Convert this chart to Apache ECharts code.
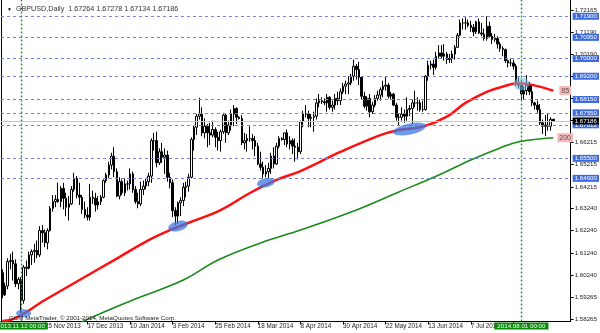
<!DOCTYPE html>
<html><head><meta charset="utf-8">
<script src="https://cdn.jsdelivr.net/npm/echarts@6/dist/echarts.min.js"></script>
<style>html,body{margin:0;padding:0;background:#fff}#c{width:600px;height:333px}</style>
</head><body><div id="c"></div><script>
const dates = [
'2013.11.01','2013.11.04','2013.11.05','2013.11.06','2013.11.07','2013.11.08','2013.11.11','2013.11.12','2013.11.13','2013.11.14',
'2013.11.15','2013.11.18','2013.11.19','2013.11.20','2013.11.21','2013.11.22','2013.11.25','2013.11.26','2013.11.27','2013.11.28',
'2013.11.29','2013.12.02','2013.12.03','2013.12.04','2013.12.05','2013.12.06','2013.12.09','2013.12.10','2013.12.11','2013.12.12',
'2013.12.13','2013.12.16','2013.12.17','2013.12.18','2013.12.19','2013.12.20','2013.12.23','2013.12.24','2013.12.26','2013.12.27',
'2013.12.30','2013.12.31','2014.01.02','2014.01.03','2014.01.06','2014.01.07','2014.01.08','2014.01.09','2014.01.10','2014.01.13',
'2014.01.14','2014.01.15','2014.01.16','2014.01.17','2014.01.20','2014.01.21','2014.01.22','2014.01.23','2014.01.24','2014.01.27',
'2014.01.28','2014.01.29','2014.01.30','2014.01.31','2014.02.03','2014.02.04','2014.02.05','2014.02.06','2014.02.07','2014.02.10',
'2014.02.11','2014.02.12','2014.02.13','2014.02.14','2014.02.17','2014.02.18','2014.02.19','2014.02.20','2014.02.21','2014.02.24',
'2014.02.25','2014.02.26','2014.02.27','2014.02.28','2014.03.03','2014.03.04','2014.03.05','2014.03.06','2014.03.07','2014.03.09',
'2014.03.10','2014.03.11','2014.03.12','2014.03.13','2014.03.14','2014.03.17','2014.03.18','2014.03.19','2014.03.20','2014.03.21',
'2014.03.24','2014.03.25','2014.03.26','2014.03.27','2014.03.28','2014.03.30','2014.03.31','2014.04.01','2014.04.02','2014.04.03',
'2014.04.04','2014.04.07','2014.04.08','2014.04.09','2014.04.10','2014.04.11','2014.04.14','2014.04.15','2014.04.16','2014.04.17',
'2014.04.18','2014.04.21','2014.04.22','2014.04.23','2014.04.24','2014.04.25','2014.04.28','2014.04.29','2014.04.30','2014.05.01',
'2014.05.02','2014.05.05','2014.05.06','2014.05.07','2014.05.08','2014.05.09','2014.05.12','2014.05.13','2014.05.14','2014.05.15',
'2014.05.16','2014.05.19','2014.05.20','2014.05.21','2014.05.22','2014.05.23','2014.05.26','2014.05.27','2014.05.28','2014.05.29',
'2014.05.30','2014.06.02','2014.06.03','2014.06.04','2014.06.05','2014.06.06','2014.06.09','2014.06.10','2014.06.11','2014.06.12',
'2014.06.13','2014.06.16','2014.06.17','2014.06.18','2014.06.19','2014.06.20','2014.06.23','2014.06.24','2014.06.25','2014.06.26',
'2014.06.27','2014.06.30','2014.07.01','2014.07.02','2014.07.03','2014.07.04','2014.07.07','2014.07.08','2014.07.09','2014.07.10',
'2014.07.11','2014.07.14','2014.07.15','2014.07.16','2014.07.17','2014.07.18','2014.07.21','2014.07.22','2014.07.23','2014.07.24',
'2014.07.25','2014.07.28','2014.07.29','2014.07.30','2014.07.31','2014.08.01','2014.08.04','2014.08.05','2014.08.06','2014.08.07',
'2014.08.08','2014.08.11','2014.08.12','2014.08.13','2014.08.14','2014.08.15','2014.08.18','2014.08.19'
];
const emptySlots = ['','','','','',''];
const opens = [
1.6035,1.5935,1.5975,1.6085,1.6090,1.6075,1.5985,1.6005,1.5910,1.6060,
1.6055,1.6115,1.6130,1.6135,1.6115,1.6225,1.6215,1.6170,1.6225,1.6325,
1.6355,1.6365,1.6355,1.6415,1.6370,1.6330,1.6345,1.6410,1.6460,1.6385,
1.6375,1.6320,1.6295,1.6285,1.6375,1.6370,1.6340,1.6355,1.6375,1.6450,
1.6475,1.6520,1.6560,1.6490,1.6380,1.6445,1.6395,1.6435,1.6435,1.6480,
1.6410,1.6355,1.6345,1.6410,1.6425,1.6445,1.6470,1.6630,1.6630,1.6530,
1.6580,1.6555,1.6565,1.6465,1.6440,1.6315,1.6290,1.6350,1.6360,1.6420,
1.6425,1.6465,1.6635,1.6690,1.6740,1.6750,1.6665,1.6695,1.6665,1.6655,
1.6680,1.6645,1.6630,1.6670,1.6745,1.6665,1.6700,1.6750,1.6775,1.6735,
1.6730,1.6620,1.6630,1.6640,1.6640,1.6630,1.6605,1.6525,1.6510,1.6480,
1.6490,1.6505,1.6560,1.6525,1.6605,1.6640,1.6635,1.6665,1.6615,1.6630,
1.6605,1.6600,1.6580,1.6715,1.6750,1.6750,1.6730,1.6735,1.6740,1.6800,
1.6810,1.6805,1.6800,1.6825,1.6780,1.6790,1.6820,1.6810,1.6850,1.6875,
1.6885,1.6890,1.6920,1.6965,1.6950,1.6915,1.6830,1.6785,1.6820,1.6760,
1.6790,1.6820,1.6835,1.6860,1.6875,1.6880,1.6830,1.6840,1.6790,1.6735,
1.6735,1.6750,1.6740,1.6770,1.6775,1.6800,1.6800,1.6800,1.6770,1.6770,
1.6920,1.6970,1.6975,1.6960,1.7010,1.7025,1.7010,1.7020,1.6995,1.7000,
1.7020,1.7050,1.7105,1.7160,1.7160,1.7160,1.7150,1.7140,1.7120,1.7165,
1.7115,1.7110,1.7090,1.7145,1.7100,1.7085,1.7090,1.7065,1.7045,1.7040,
1.6990,1.6980,1.6980,1.6965,1.6890,1.6880,1.6840,1.6855,1.6880,1.6850,
1.6800,1.6790,1.6770,1.6710,1.6695,1.6700,1.6695,1.67264
];
const highs = [
1.6050,1.5990,1.6100,1.6120,1.6130,1.6095,1.6015,1.6015,1.6070,1.6090,
1.6130,1.6140,1.6165,1.6180,1.6245,1.6250,1.6230,1.6235,1.6335,1.6385,
1.6385,1.6440,1.6425,1.6440,1.6395,1.6380,1.6425,1.6485,1.6470,1.6440,
1.6385,1.6355,1.6330,1.6435,1.6405,1.6395,1.6380,1.6385,1.6455,1.6485,
1.6535,1.6575,1.6600,1.6505,1.6465,1.6455,1.6460,1.6450,1.6505,1.6490,
1.6425,1.6395,1.6445,1.6450,1.6460,1.6485,1.6640,1.6665,1.6670,1.6595,
1.6620,1.6595,1.6585,1.6485,1.6455,1.6330,1.6355,1.6375,1.6440,1.6445,
1.6480,1.6645,1.6700,1.6750,1.6823,1.6780,1.6730,1.6705,1.6710,1.6720,
1.6690,1.6670,1.6680,1.6755,1.6750,1.6720,1.6770,1.6790,1.6780,1.6740,
1.6745,1.6665,1.6660,1.6695,1.6660,1.6650,1.6620,1.6580,1.6535,1.6520,
1.6530,1.6575,1.6600,1.6620,1.6650,1.6645,1.6665,1.6680,1.6650,1.6640,
1.6640,1.6620,1.6720,1.6765,1.6790,1.6765,1.6750,1.6760,1.6820,1.6840,
1.6825,1.6820,1.6840,1.6830,1.6810,1.6840,1.6850,1.6865,1.6890,1.6900,
1.6920,1.6930,1.6995,1.6975,1.6985,1.6920,1.6850,1.6830,1.6840,1.6805,
1.6835,1.6855,1.6870,1.6900,1.6920,1.6890,1.6850,1.6845,1.6800,1.6750,
1.6780,1.6770,1.6825,1.6790,1.6815,1.6855,1.6825,1.6815,1.6810,1.6925,
1.6990,1.6990,1.6995,1.7030,1.7060,1.7060,1.7065,1.7030,1.7020,1.7035,
1.7060,1.7115,1.7175,1.7180,1.7185,1.7175,1.7170,1.7155,1.7170,1.7180,
1.7160,1.7135,1.7190,1.7165,1.7115,1.7110,1.7100,1.7075,1.7055,1.7045,
1.6995,1.7000,1.6995,1.6975,1.6915,1.6900,1.6875,1.6925,1.6895,1.6880,
1.6805,1.6810,1.6795,1.6725,1.6745,1.6750,1.6735,1.67278
];
const lows = [
1.5920,1.5930,1.5960,1.6050,1.6000,1.5970,1.5960,1.5855,1.5895,1.6020,
1.6050,1.6070,1.6080,1.6100,1.6105,1.6170,1.6150,1.6140,1.6220,1.6310,
1.6330,1.6350,1.6330,1.6320,1.6290,1.6270,1.6340,1.6400,1.6370,1.6340,
1.6300,1.6280,1.6270,1.6270,1.6345,1.6310,1.6320,1.6340,1.6370,1.6440,
1.6460,1.6500,1.6465,1.6375,1.6365,1.6385,1.6380,1.6405,1.6410,1.6395,
1.6345,1.6325,1.6335,1.6385,1.6410,1.6425,1.6440,1.6585,1.6510,1.6520,
1.6530,1.6480,1.6445,1.6415,1.6285,1.6250,1.6255,1.6290,1.6335,1.6375,
1.6400,1.6460,1.6585,1.6655,1.6725,1.6650,1.6640,1.6600,1.6610,1.6645,
1.6600,1.6585,1.6580,1.6660,1.6620,1.6655,1.6675,1.6695,1.6705,1.6725,
1.6610,1.6590,1.6580,1.6625,1.6590,1.6560,1.6520,1.6495,1.6460,1.6465,
1.6460,1.6480,1.6505,1.6520,1.6595,1.6630,1.6610,1.6600,1.6590,1.6570,
1.6535,1.6545,1.6570,1.6690,1.6735,1.6690,1.6690,1.6670,1.6725,1.6780,
1.6795,1.6790,1.6760,1.6770,1.6760,1.6770,1.6790,1.6790,1.6840,1.6840,
1.6840,1.6880,1.6900,1.6905,1.6880,1.6815,1.6775,1.6765,1.6735,1.6750,
1.6780,1.6810,1.6810,1.6825,1.6855,1.6820,1.6815,1.6785,1.6720,1.6695,
1.6720,1.6710,1.6720,1.6740,1.6705,1.6780,1.6765,1.6760,1.6760,1.6765,
1.6900,1.6950,1.6925,1.6950,1.7000,1.7000,1.6990,1.6975,1.6980,1.6980,
1.6995,1.7050,1.7100,1.7130,1.7130,1.7140,1.7120,1.7100,1.7110,1.7110,
1.7100,1.7080,1.7080,1.7095,1.7065,1.7075,1.7045,1.7030,1.7010,1.6980,
1.6960,1.6965,1.6950,1.6875,1.6865,1.6810,1.6815,1.6835,1.6835,1.6785,
1.6770,1.6755,1.6700,1.6660,1.6650,1.6675,1.6675,1.67134
];
const closes = [
1.5935,1.5975,1.6085,1.6090,1.6075,1.5985,1.6005,1.5910,1.6060,1.6055,
1.6115,1.6130,1.6135,1.6115,1.6225,1.6215,1.6170,1.6225,1.6325,1.6355,
1.6365,1.6355,1.6415,1.6370,1.6330,1.6345,1.6410,1.6460,1.6385,1.6375,
1.6320,1.6295,1.6285,1.6375,1.6370,1.6340,1.6355,1.6375,1.6450,1.6475,
1.6520,1.6560,1.6490,1.6380,1.6445,1.6395,1.6435,1.6435,1.6480,1.6410,
1.6355,1.6345,1.6410,1.6425,1.6445,1.6470,1.6630,1.6630,1.6530,1.6580,
1.6555,1.6565,1.6465,1.6440,1.6315,1.6290,1.6350,1.6360,1.6420,1.6425,
1.6465,1.6635,1.6690,1.6740,1.6750,1.6665,1.6695,1.6665,1.6655,1.6680,
1.6645,1.6630,1.6670,1.6745,1.6665,1.6700,1.6750,1.6775,1.6735,1.6730,
1.6620,1.6630,1.6640,1.6640,1.6630,1.6605,1.6525,1.6510,1.6480,1.6490,
1.6505,1.6560,1.6525,1.6605,1.6640,1.6635,1.6665,1.6615,1.6630,1.6605,
1.6600,1.6580,1.6715,1.6750,1.6750,1.6730,1.6735,1.6740,1.6800,1.6810,
1.6805,1.6800,1.6825,1.6780,1.6790,1.6820,1.6810,1.6850,1.6875,1.6885,
1.6890,1.6920,1.6965,1.6950,1.6915,1.6830,1.6785,1.6820,1.6760,1.6790,
1.6820,1.6835,1.6860,1.6875,1.6880,1.6830,1.6840,1.6790,1.6735,1.6735,
1.6750,1.6740,1.6770,1.6775,1.6800,1.6800,1.6800,1.6770,1.6770,1.6920,
1.6970,1.6975,1.6960,1.7010,1.7025,1.7010,1.7020,1.6995,1.7000,1.7020,
1.7050,1.7105,1.7160,1.7160,1.7160,1.7150,1.7140,1.7120,1.7165,1.7115,
1.7110,1.7090,1.7145,1.7100,1.7085,1.7090,1.7065,1.7045,1.7040,1.6990,
1.6980,1.6980,1.6965,1.6890,1.6880,1.6840,1.6855,1.6880,1.6850,1.6800,
1.6790,1.6770,1.6710,1.6695,1.6700,1.6695,1.6726,1.67186
];
// moving averages: [date, price]
const ma85 = [
['2013.11.01',1.5818],['2013.11.06',1.5822],['2013.11.25',1.5912],['2013.12.12',1.6002],['2014.01.02',1.6092],
['2014.01.21',1.6182],['2014.01.31',1.6227],['2014.02.11',1.6260],['2014.02.27',1.6317],['2014.03.13',1.6394],
['2014.03.27',1.6453],['2014.04.08',1.6493],['2014.04.29',1.6579],['2014.05.20',1.6655],['2014.05.29',1.6678],
['2014.06.11',1.6693],['2014.06.24',1.6738],['2014.07.03',1.6800],['2014.07.15',1.6850],['2014.07.22',1.6870],
['2014.07.31',1.6888],['2014.08.07',1.6881],['2014.08.19',1.6855]
];
const ma200 = [
['2013.12.12',1.5800],['2013.12.13',1.5814],['2014.01.13',1.5912],['2014.02.07',1.6002],['2014.02.26',1.6092],
['2014.03.19',1.6169],['2014.04.08',1.6227],['2014.05.05',1.6308],['2014.05.29',1.6399],['2014.06.19',1.6475],
['2014.07.07',1.6543],['2014.07.22',1.6597],['2014.07.31',1.6625],['2014.08.19',1.6643]
];
const maNames = ['85','200'];
const levels = [1.71900,1.70950,1.70000,1.69200,1.68150,1.67550,1.67012,1.65500,1.64600];
const bid = 1.67186;
const priceTicks = [1.58265,1.59265,1.60240,1.61240,1.62240,1.63240,1.64215,1.65215,1.66215,1.67215,1.68190,1.69190,1.70190,1.71190,1.72165];
const markedDays = ['2013.11.12','2014.08.01'];
const touchDates = ['2013.11.13','2014.02.05','2014.03.21','2014.06.04','2014.08.01'];
const touchPrices = [1.5852,1.6245,1.6440,1.6682,1.6885];
const headerText = 'GBPUSD,Daily';
const copyright = 'GCM MetaTrader, \u00a9 2001-2014, MetaQuotes Software Corp.';

const MON = ['Jan','Feb','Mar','Apr','May','Jun','Jul','Aug','Sep','Oct','Nov','Dec'];
function fmtDate(s){ if(!s) return ''; const p=s.split('.'); return (+p[2])+' '+MON[+p[1]-1]+' '+p[0]; }
const cats = dates.concat(emptySlots);
const candle = dates.map((d,i)=>[opens[i],closes[i],lows[i],highs[i]]);
const last = dates.length-1;
const FONT = 'Liberation Sans';
const ellipseStyle = [
 {w:15,h:8,r:0,c:'rgba(60,120,225,0.75)'},
 {w:20,h:10,r:15,c:'rgba(60,120,225,0.75)'},
 {w:18,h:9,r:10,c:'rgba(60,120,225,0.75)'},
 {w:34,h:11,r:12,c:'rgba(60,120,225,0.75)'},
 {w:16,h:13,r:0,c:'rgba(110,190,235,0.55)'}
];
const chart = echarts.init(document.getElementById('c'),null,{renderer:'canvas'});
const yMin = 1.58152, yMax = 1.72634;
const labelEvery = i => i>0 && i<=last && i%16===0;
const boxLabel = (txt,bg) => ({show:true,position:'end',distance:2,formatter:()=>txt,backgroundColor:bg,color:'#fff',fontSize:6.2,padding:[1,2,0,2],fontFamily:FONT});
chart.setOption({
 animation:false,
 textStyle:{fontFamily:FONT},
 title:[{
   text:'{t|\u25bc}  '+headerText+'  '+[opens[last],highs[last],lows[last],closes[last]].map(v=>v.toFixed(5)).join(' '),
   left:2, top:1,
   textStyle:{fontSize:7.2,fontWeight:'normal',color:'#333',fontFamily:FONT,rich:{t:{fontSize:5,color:'#000'}}}
 },{
   text:copyright, left:4, top:310,
   textStyle:{fontSize:6.2,fontWeight:'normal',color:'#222',fontFamily:FONT}
 }],
 grid:{left:1,right:28.5,top:0,bottom:11.5,containLabel:false},
 xAxis:{type:'category',data:cats,boundaryGap:true,
   axisLine:{show:true,lineStyle:{color:'#000',width:1}},
   axisTick:{show:true,alignWithLabel:true,interval:(i)=>labelEvery(i),length:3,lineStyle:{color:'#000'}},
   axisLabel:{interval:(i)=>labelEvery(i),formatter:(v)=>fmtDate(v),align:'left',margin:2,fontSize:6.3,color:'#222',fontFamily:FONT},
   splitLine:{show:false}},
 yAxis:[{type:'value',position:'right',min:yMin,max:yMax,
   axisLine:{show:true,lineStyle:{color:'#000'}},
   axisTick:{show:true,customValues:priceTicks,length:3,inside:false,lineStyle:{color:'#000'}},
   axisLabel:{customValues:priceTicks,formatter:(v)=>(+v).toFixed(5),fontSize:6.2,color:'#222',margin:4,fontFamily:FONT},
   splitLine:{show:false}},
  {type:'value',position:'left',min:yMin,max:yMax,axisLine:{show:true,lineStyle:{color:'#000'}},axisTick:{show:false},axisLabel:{show:false},splitLine:{show:false}}],
 series:[
  {type:'candlestick',data:candle,barWidth:2,
   itemStyle:{color:'#ffffff',color0:'#000000',borderColor:'#000000',borderColor0:'#000000',borderWidth:1},
   markLine:{symbol:['none','none'],silent:true,animation:false,precision:5,
     lineStyle:{color:'#6f86dc',type:[3,3],width:1},
     data:levels.map(v=>({yAxis:v,label:boxLabel(v.toFixed(5),'#3d6be0')}))
       .concat([{yAxis:bid,lineStyle:{color:'#c8c8c8',type:'solid',width:1},label:boxLabel(bid.toFixed(5),'#000')}])},
   markPoint:{silent:true,animation:false,
     data:touchDates.map((d,i)=>({coord:[d,touchPrices[i]],symbol:'circle',symbolSize:[ellipseStyle[i].w,ellipseStyle[i].h],symbolRotate:ellipseStyle[i].r,
       itemStyle:{color:ellipseStyle[i].c},label:{show:false}}))}
  },
  {type:'line',data:[],silent:true,
   markLine:{symbol:['none','none'],silent:true,animation:false,
     lineStyle:{color:'#00a000',type:[2,2],width:1.3,opacity:1},
     data:markedDays.map(d=>({xAxis:d,
         label:{show:true,position:'start',distance:1,formatter:()=>d+' 00:00',backgroundColor:'#0a8a0a',color:'#fff',fontSize:6.2,padding:[1,3,0,3],fontFamily:FONT}}))}},
  {type:'line',data:ma85,smooth:0.4,showSymbol:false,symbol:'none',lineStyle:{color:'#ff1010',width:2.5},z:3,
   endLabel:{show:true,formatter:maNames[0],distance:6,backgroundColor:'#f7b7b7',color:'#555',fontSize:7,padding:[1,2],fontFamily:FONT}},
  {type:'line',data:ma200,smooth:0.4,showSymbol:false,symbol:'none',lineStyle:{color:'#1a8a1a',width:1.6},z:3,
   endLabel:{show:true,formatter:maNames[1],distance:4,backgroundColor:'#f7b7b7',color:'#555',fontSize:7,padding:[1,2],fontFamily:FONT}}
 ]
});
</script></body></html>
